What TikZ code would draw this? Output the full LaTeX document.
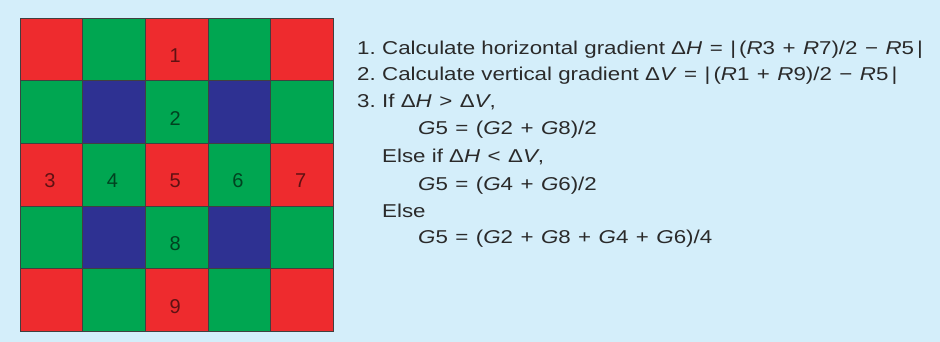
\documentclass[tikz,border=0pt]{standalone}
\usepackage{fontspec}
\setmainfont{Liberation Sans}
\newfontfamily\wide[FakeStretch=1.2]{Liberation Sans}
\usetikzlibrary{positioning}
\definecolor{bgb}{HTML}{D4EEFA}
\definecolor{pR}{HTML}{EE2B2E}
\definecolor{pG}{HTML}{00A651}
\definecolor{pB}{HTML}{2E3192}
\definecolor{tx}{HTML}{2A2A2A}
\colorlet{px0}{pR}
\colorlet{px1}{pG}
\colorlet{px2}{pG}
\colorlet{px3}{pB}
\newcommand\bop[1]{\hspace{.4em}#1\hspace{.4em}}
\begin{document}
\begin{tikzpicture}[x=1pt,y=-1pt,
  cell/.style={draw=black!75,line width=.8pt,minimum size=62.7pt,inner sep=0pt},
  num/.style={font=\fontsize{20}{20}\selectfont,text=black,text opacity=.6,yshift=-6pt,xshift=-1.5pt},
  ln/.style={anchor=base west,inner sep=0pt,text=tx,font=\wide\fontsize{18.6}{18.6}\selectfont}]
\fill[bgb] (0,0) rectangle (940,342);
\useasboundingbox (0,0) rectangle (940,342);
% Bayer mosaic, 5x5
\foreach \r in {0,...,4}
  \foreach \c in {0,...,4}{
    \pgfmathtruncatemacro\k{mod(\r,2)+2*mod(\c,2)}
    \node[cell,fill=px\k] (c-\r-\c) at (51.35+62.7*\c,49.35+62.7*\r) {};
  }
\foreach \r/\c/\n in {0/2/1,1/2/2,2/0/3,2/1/4,2/2/5,2/3/6,2/4/7,3/2/8,4/2/9}
  \node[num] (n\n) at (c-\r-\c) {\n};
% steps
\node[ln] (k1) at (357,55) {1.};
\node[ln] (s1) at (382,55) {Calculate horizontal gradient Δ\textit{H}\bop{=}|\,(\textit{R}3\bop{+}\textit{R}7)/2\bop{−}\textit{R}5\,|};
\node[ln] (k2) at (357,81) {2.};
\node[ln] (s2) at (382,81) {Calculate vertical gradient Δ\textit{V}\bop{=}|\,(\textit{R}1\bop{+}\textit{R}9)/2\bop{−}\textit{R}5\,|};
\node[ln] (k3) at (357,108) {3.};
\node[ln] (s3) at (382,108) {If Δ\textit{H}\bop{>}Δ\textit{V},};
\node[ln] (s4) at (418,135) {\textit{G}5\bop{=}(\textit{G}2\bop{+}\textit{G}8)/2};
\node[ln] (s5) at (382,163) {Else if Δ\textit{H}\bop{<}Δ\textit{V},};
\node[ln] (s6) at (418,190) {\textit{G}5\bop{=}(\textit{G}4\bop{+}\textit{G}6)/2};
\node[ln] (s7) at (382,217) {Else};
\node[ln] (s8) at (418,243) {\textit{G}5\bop{=}(\textit{G}2\bop{+}\textit{G}8\bop{+}\textit{G}4\bop{+}\textit{G}6)/4};
\end{tikzpicture}
\end{document}
